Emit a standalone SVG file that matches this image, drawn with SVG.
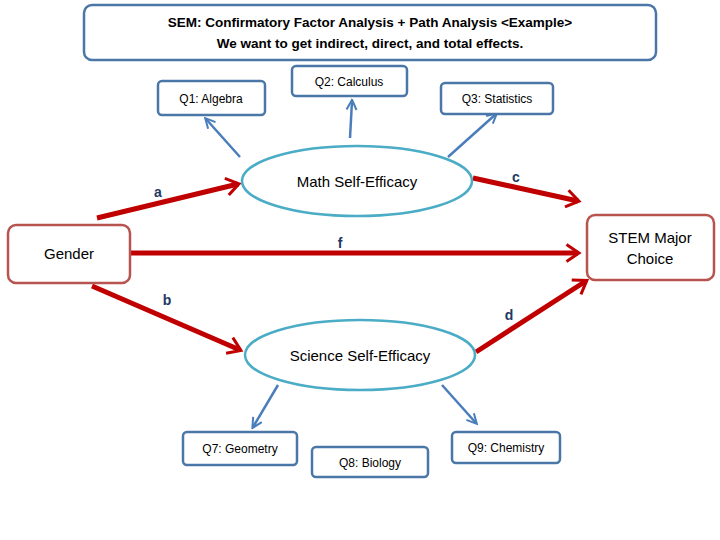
<svg xmlns="http://www.w3.org/2000/svg" width="720" height="540" viewBox="0 0 720 540">
<style>
text{font-family:"Liberation Sans",Arial,sans-serif;fill:#000;text-anchor:middle}
.q{fill:#fff;stroke:#4a77a8;stroke-width:2.5}
.r{fill:#fff;stroke:#b85450;stroke-width:2.5}
.e{fill:#fff;stroke:#4bacc6;stroke-width:2.5}
.red{stroke:#c00000;stroke-width:5;fill:none;marker-end:url(#ra)}
.blue{stroke:#4a7ebb;stroke-width:2.5;fill:none;marker-end:url(#ba)}
.s{font-size:12px}
.lab{font-size:14px;font-weight:bold;fill:#1f3864}
</style>
<defs>
<marker id="ra" markerWidth="4" markerHeight="4" refX="2.6" refY="2" orient="auto" markerUnits="strokeWidth"><path d="M0.3,0.3 L2.8,2 L0.3,3.7" fill="none" stroke="#c00000" stroke-width="0.6"/></marker>
<marker id="ba" markerWidth="5" markerHeight="5" refX="4" refY="2.5" orient="auto" markerUnits="strokeWidth"><path d="M0.5,0.5 L4.5,2.5 L0.5,4.5" fill="none" stroke="#4a7ebb" stroke-width="0.8"/></marker>
</defs>
<rect width="720" height="540" fill="#fff"/>
<g id="title"><rect x="84" y="5" width="572" height="55" rx="8" class="q"/>
<text x="370" y="27" font-size="13.5" font-weight="bold">SEM: Confirmatory Factor Analysis  + Path Analysis &lt;Example&gt;</text>
<text x="370" y="48" font-size="13.5" font-weight="bold">We want to get indirect, direct, and total effects.</text></g>
<g id="connectors">
<path class="red" d="M97,218 L238,184"/>
<path class="red" d="M473,178 L578,201"/>
<path class="red" d="M130,253 L578,253"/>
<path class="red" d="M92,286 L240,350"/>
<path class="red" d="M476,352 L586,281"/>
<path class="blue" d="M240,157 L206,119"/>
<path class="blue" d="M350,138 L352,101"/>
<path class="blue" d="M448,157 L496,114"/>
<path class="blue" d="M278,385 L253,427"/>
<path class="blue" d="M442,385 L476,423"/>
</g>
<g id="labels">
<text x="158" y="197" class="lab">a</text>
<text x="516" y="182" class="lab">c</text>
<text x="340" y="248" class="lab">f</text>
<text x="167" y="305" class="lab">b</text>
<text x="509" y="320" class="lab">d</text>
</g>
<g id="q1"><rect x="158" y="81" width="107" height="34" rx="4" class="q"/><text x="211" y="103" class="s">Q1: Algebra</text></g>
<g id="q2"><rect x="292" y="66" width="115" height="30" rx="4" class="q"/><text x="349" y="86" class="s">Q2: Calculus</text></g>
<g id="q3"><rect x="441" y="83" width="112" height="31" rx="4" class="q"/><text x="497" y="103" class="s">Q3: Statistics</text></g>
<g id="math"><ellipse cx="357" cy="181" rx="115" ry="35" class="e"/><text x="357" y="187" font-size="15">Math Self-Efficacy</text></g>
<g id="gender"><rect x="8" y="225" width="122" height="58" rx="8" class="r"/><text x="69" y="259" font-size="15">Gender</text></g>
<g id="stem"><rect x="587" y="215" width="127" height="65" rx="8" class="r"/><text x="650" y="243" font-size="15">STEM Major</text><text x="650" y="264" font-size="15">Choice</text></g>
<g id="science"><ellipse cx="360" cy="355" rx="115" ry="35" class="e"/><text x="360" y="361" font-size="15">Science Self-Efficacy</text></g>
<g id="q7"><rect x="183" y="432" width="114" height="33" rx="4" class="q"/><text x="240" y="453" class="s">Q7: Geometry</text></g>
<g id="q8"><rect x="312" y="447" width="116" height="30" rx="4" class="q"/><text x="370" y="467" class="s">Q8: Biology</text></g>
<g id="q9"><rect x="452" y="432" width="108" height="31" rx="4" class="q"/><text x="506" y="452" class="s">Q9: Chemistry</text></g>
</svg>
